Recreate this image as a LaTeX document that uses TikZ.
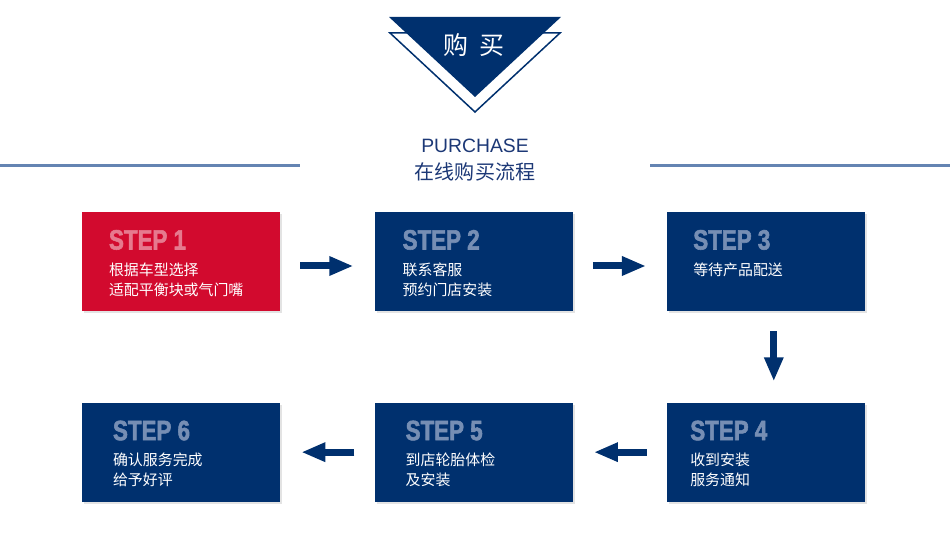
\documentclass[tikz,border=0pt]{standalone}
\usepackage{fontspec}
\usepackage{tikz}
\usetikzlibrary{positioning,arrows.meta,shadows}
\newfontfamily\cjk{Noto Sans CJK SC}
\newfontfamily\latin{Liberation Sans}
\newfontfamily\stepfont[FakeStretch=0.8,FakeBold=2]{Liberation Sans Bold}
\definecolor{navy}{RGB}{0,48,110}
\definecolor{stepred}{RGB}{210,10,46}
\definecolor{rulegray}{RGB}{100,132,178}
\definecolor{headblue}{RGB}{28,56,118}
\definecolor{fadeblue}{RGB}{118,142,180}
\definecolor{fadered}{RGB}{230,122,142}

\begin{document}
\begin{tikzpicture}[
		x=0.02cm, y=-0.02cm,
		node distance=1.82cm and 1.88cm,
		stepbox/.style={
			minimum width=3.96cm,
			minimum height=1.98cm,
			inner sep=0pt,
			fill=navy,
			drop shadow={shadow xshift=0.04cm, shadow yshift=-0.04cm, opacity=0.22}
		},
		redbox/.style={stepbox, fill=stepred},
		steptitle/.style={
			inner sep=0pt,
			text=fadeblue,
			font=\stepfont\fontsize{15.9}{18}\selectfont
		},
		stepbody/.style={
			inner sep=0pt,
			align=left,
			text=white,
			font=\cjk\fontsize{8.5}{11.4}\selectfont
		},
		flow/.style={
			navy, line width=0.14cm,
			-{Triangle[length=0.48cm,width=0.36cm]},
			shorten <=0.4cm, shorten >=0.42cm
		}
		]
		
		\useasboundingbox (0,0) rectangle (950,546);
		
		% header
		\draw[navy, line width=0.03cm, line join=miter] (390,33) -- (560,33) -- (475,112) -- cycle;
		\fill[navy] (389,17) -- (561,17) -- (475,97) -- cycle;
		\node[text=white, font=\cjk\fontsize{14.2}{16}\selectfont] (buy) at (474,45.5) {购\hspace{0.45em}买};
		
		\draw[rulegray, line width=0.042cm] (0,165.5) -- (300,165.5);
		\draw[rulegray, line width=0.042cm] (650,165.5) -- (950,165.5);
		
		\node[anchor=base, text=headblue, font=\latin\fontsize{11}{13}\selectfont] (eng) at (475,153) {PURCHASE};
		\node[text=headblue, font=\cjk\fontsize{11.4}{13}\selectfont] (chn) at (475,172) {在线购买流程};
		
		% boxes
		\node[redbox] (b1) at (181,261.5) {};
		\node[stepbox,right=of b1] (b2) {};
		\node[stepbox,right=of b2] (b3) {};
		\node[stepbox,below=of b3] (b4) {};
		\node[stepbox,left=of b4] (b5) {};
		\node[stepbox,left=of b5] (b6) {};
		
		% texts
		\node[steptitle,text=fadered,below right=0.36cm and 0.54cm of b1.north west] (t1) {STEP 1};
		\node[stepbody,below right=0.24cm and 0cm of t1.south west] (d1) {根据车型选择\\适配平衡块或气门嘴};
		
		\node[steptitle,below right=0.36cm and 0.56cm of b2.north west] (t2) {STEP 2};
		\node[stepbody,below right=0.24cm and 0cm of t2.south west] (d2) {联系客服\\预约门店安装};
		
		\node[steptitle,below right=0.36cm and 0.52cm of b3.north west] (t3) {STEP 3};
		\node[stepbody,below right=0.24cm and 0cm of t3.south west] (d3) {等待产品配送};
		
		\node[steptitle,below right=0.36cm and 0.46cm of b4.north west] (t4) {STEP 4};
		\node[stepbody,below right=0.24cm and 0cm of t4.south west] (d4) {收到安装\\服务通知};
		
		\node[steptitle,below right=0.36cm and 0.62cm of b5.north west] (t5) {STEP 5};
		\node[stepbody,below right=0.24cm and 0cm of t5.south west] (d5) {到店轮胎体检\\及安装};
		
		\node[steptitle,below right=0.36cm and 0.62cm of b6.north west] (t6) {STEP 6};
		\node[stepbody,below right=0.24cm and 0cm of t6.south west] (d6) {确认服务完成\\给予好评};
		
		% arrows
		\draw[flow] ([yshift=-0.09cm]b1.east) -- ([yshift=-0.09cm]b2.west);
		\draw[flow] ([yshift=-0.09cm]b2.east) -- ([yshift=-0.09cm]b3.west);
		\draw[flow] ([xshift=0.15cm]b3.south) -- ([xshift=0.15cm]b4.north);
		\draw[flow] (b4.west) -- (b5.east);
		\draw[flow] (b5.west) -- (b6.east);
		
	\end{tikzpicture}
\end{document}
